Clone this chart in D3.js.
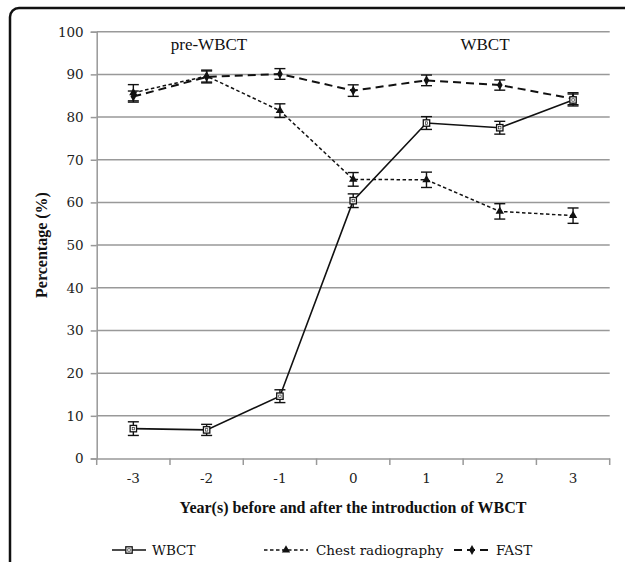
<!DOCTYPE html>
<html><head><meta charset="utf-8">
<script src="https://cdn.jsdelivr.net/npm/d3@7"></script>
<style>html,body{margin:0;padding:0;background:#fff;}svg{display:block;}</style>
</head><body>
<div id="chart"></div>
<script>
const years = ["-3","-2","-1","0","1","2","3"];
const yTicks = [0,10,20,30,40,50,60,70,80,90,100];
const wbctValues = [7.0, 6.7, 14.6, 60.4, 78.6, 77.5, 84.0];
const wbctErrors = [1.6, 1.3, 1.5, 1.6, 1.5, 1.5, 1.4];
const chestValues = [85.7, 89.6, 81.5, 65.4, 65.3, 57.9, 56.9];
const chestErrors = [1.9, 1.4, 1.6, 1.6, 1.8, 1.8, 1.8];
const fastValues = [84.8, 89.4, 90.1, 86.2, 88.6, 87.5, 84.3];
const fastErrors = [1.3, 1.4, 1.25, 1.35, 1.25, 1.2, 1.4];
const seriesNames = ["WBCT", "Chest radiography", "FAST"];
const periodLabels = ["pre-WBCT", "WBCT"];
const xTitle = "Year(s) before and after the introduction of WBCT";
const yTitle = "Percentage (%)";

const W = 625, H = 562;
const svg = d3.select("#chart").append("svg").attr("width", W).attr("height", H);

// frame
svg.append("rect").attr("x",10).attr("y",8).attr("width",700).attr("height",700)
  .attr("rx",9).attr("fill","none").attr("stroke","#111").attr("stroke-width",2.5);

const x = d3.scaleBand().domain(years).range([96.7, 609.7]);
const y = d3.scaleLinear().domain([0,100]).range([458.5, 31.7]);
const cx = d => x(d) + x.bandwidth()/2;

// gridlines
svg.append("g").selectAll("line").data(yTicks.filter(t=>t>0)).join("line")
  .attr("x1", 96.7).attr("x2", 609.7)
  .attr("y1", d=>y(d)).attr("y2", d=>y(d))
  .attr("stroke","#999").attr("stroke-width",1.5);

// y axis
const yAxis = svg.append("g").attr("transform","translate(96.7,0)")
  .call(d3.axisLeft(y).tickValues(yTicks).tickSize(6).tickPadding(7));
yAxis.select(".domain").attr("stroke","#999").attr("stroke-width",1.5);
yAxis.selectAll(".tick line").attr("stroke","#999").attr("stroke-width",1.5);
yAxis.selectAll("text").attr("font-family","DejaVu Serif").attr("font-size",13.5).attr("fill","#222");

// x axis
const xAxis = svg.append("g").attr("transform","translate(0,458.5)")
  .call(d3.axisBottom(x).tickSize(0).tickPadding(15));
xAxis.select(".domain").attr("stroke","#999").attr("stroke-width",1.5);
xAxis.selectAll("text").attr("font-family","DejaVu Serif").attr("font-size",13.5).attr("fill","#222");
// boundary ticks
svg.append("g").selectAll("line").data(years.concat(["end"])).join("line")
  .attr("x1",(d,i)=>x.range()[0]+i*x.bandwidth()).attr("x2",(d,i)=>x.range()[0]+i*x.bandwidth())
  .attr("y1",458.5).attr("y2",465).attr("stroke","#999").attr("stroke-width",1.5);

// titles
svg.append("text").attr("x",353).attr("y",513).attr("text-anchor","middle")
  .attr("font-family","Liberation Serif").attr("font-weight","bold").attr("font-size",16)
  .attr("fill","#111").text(xTitle);
svg.append("text").attr("transform","translate(47,245) rotate(-90)").attr("text-anchor","middle")
  .attr("font-family","Liberation Serif").attr("font-weight","bold").attr("font-size",16)
  .attr("fill","#111").text(yTitle);

// period labels
svg.append("text").attr("x",209).attr("y",50).attr("text-anchor","middle")
  .attr("font-family","Liberation Serif").attr("font-size",17).attr("fill","#111").text(periodLabels[0]);
svg.append("text").attr("x",485).attr("y",50).attr("text-anchor","middle")
  .attr("font-family","Liberation Serif").attr("font-size",17).attr("fill","#111").text(periodLabels[1]);

const series = [
  {name: seriesNames[1], vals: chestValues, errs: chestErrors, dash: "3.5,2.5", width: 1.5, marker: "triangle"},
  {name: seriesNames[2], vals: fastValues, errs: fastErrors, dash: "8,5", width: 2, marker: "diamond"},
  {name: seriesNames[0], vals: wbctValues, errs: wbctErrors, dash: null, width: 1.6, marker: "square"}
];

function drawMarker(g, type, px, py) {
  if (type === "square") {
    g.append("rect").attr("x",px-3.2).attr("y",py-3.2).attr("width",6.4).attr("height",6.4)
      .attr("fill","#fff").attr("stroke","#111").attr("stroke-width",1.3);
    g.append("rect").attr("x",px-1.2).attr("y",py-1.2).attr("width",2.4).attr("height",2.4)
      .attr("fill","none").attr("stroke","#111").attr("stroke-width",0.6);
  } else if (type === "triangle") {
    g.append("path").attr("d", d3.symbol(d3.symbolTriangle, 30)()).attr("transform",`translate(${px},${py})`)
      .attr("fill","#111");
  } else {
    g.append("path").attr("d", d3.symbol(d3.symbolDiamond, 28)()).attr("transform",`translate(${px},${py})`)
      .attr("fill","#111");
  }
}

const line = d3.line().x((d,i)=>cx(years[i])).y(d=>y(d));
series.forEach(s => {
  const g = svg.append("g");
  g.append("path").attr("d", line(s.vals)).attr("fill","none").attr("stroke","#111")
    .attr("stroke-width", s.width).attr("stroke-dasharray", s.dash);
  s.vals.forEach((v,i) => {
    const px = cx(years[i]);
    const e = s.errs[i];
    g.append("line").attr("x1",px).attr("x2",px).attr("y1",y(v+e)).attr("y2",y(v-e))
      .attr("stroke","#111").attr("stroke-width",1.4);
    [v+e, v-e].forEach(b => g.append("line").attr("x1",px-5.5).attr("x2",px+5.5)
      .attr("y1",y(b)).attr("y2",y(b)).attr("stroke","#111").attr("stroke-width",1.4));
    drawMarker(g, s.marker, px, y(v));
  });
});

// legend
const legendItems = [
  {name: seriesNames[0], x1: 112, x2: 146, tx: 152, dash: null, width: 1.6, marker: "square"},
  {name: seriesNames[1], x1: 264, x2: 308, tx: 316, dash: "3.5,2.5", width: 1.5, marker: "triangle"},
  {name: seriesNames[2], x1: 454, x2: 490, tx: 496, dash: "8,5", width: 2, marker: "diamond"}
];
const ly = 550;
legendItems.forEach(it => {
  const g = svg.append("g");
  g.append("line").attr("x1",it.x1).attr("x2",it.x2).attr("y1",ly).attr("y2",ly)
    .attr("stroke","#111").attr("stroke-width",it.width).attr("stroke-dasharray",it.dash);
  drawMarker(g, it.marker, (it.x1+it.x2)/2, ly);
  g.append("text").attr("x",it.tx).attr("y",ly+5).attr("font-family","DejaVu Serif")
    .attr("font-size",13.5).attr("fill","#111").text(it.name);
});
</script>
</body></html>
